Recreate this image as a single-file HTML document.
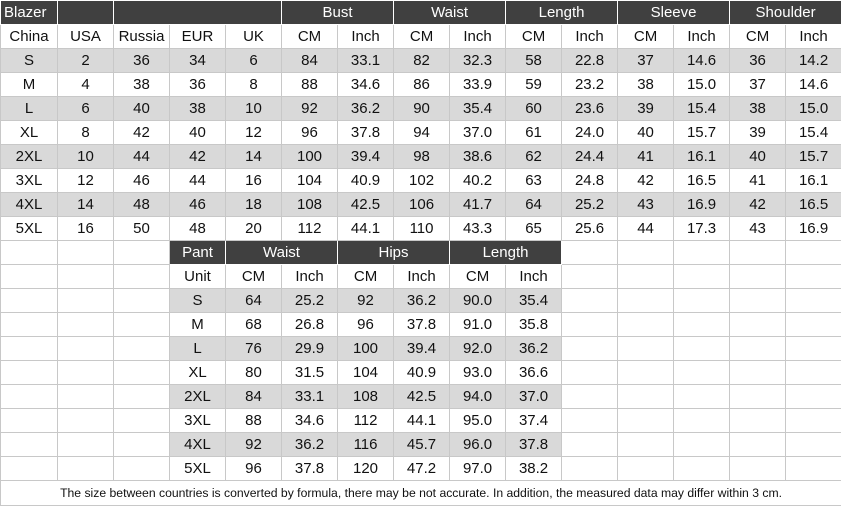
<!DOCTYPE html>
<html><head><style>
body{margin:0;background:#fff;}
table{border-collapse:collapse;table-layout:fixed;width:841px;font-family:"Liberation Sans",Arial,sans-serif;font-size:15px;color:#111;}
td{border:1px solid #c8c8c8;height:23px;padding:0;text-align:center;white-space:nowrap;overflow:hidden;}
td.h{background:#404040;color:#fff;border:1px solid #fff;}
tr.g td.d{background:#d9d9d9;}
tr.ga td{background:#d9d9d9;}
td.cap{font-size:12.2px;height:24px;}
</style></head><body>
<table>
<colgroup>
<col style="width:57px"><col style="width:56px"><col style="width:56px"><col style="width:56px"><col style="width:56px"><col style="width:56px"><col style="width:56px"><col style="width:56px"><col style="width:56px"><col style="width:56px"><col style="width:56px"><col style="width:56px"><col style="width:56px"><col style="width:56px"><col style="width:56px">
</colgroup>
<tr><td class="h" style="text-align:left;padding-left:3px">Blazer</td><td class="h"></td><td class="h" colspan="3"></td><td class="h" colspan="2">Bust</td><td class="h" colspan="2">Waist</td><td class="h" colspan="2">Length</td><td class="h" colspan="2">Sleeve</td><td class="h" colspan="2">Shoulder</td></tr>
<tr><td>China</td><td>USA</td><td>Russia</td><td>EUR</td><td>UK</td><td>CM</td><td>Inch</td><td>CM</td><td>Inch</td><td>CM</td><td>Inch</td><td>CM</td><td>Inch</td><td>CM</td><td>Inch</td></tr>
<tr class="ga"><td>S</td><td>2</td><td>36</td><td>34</td><td>6</td><td>84</td><td>33.1</td><td>82</td><td>32.3</td><td>58</td><td>22.8</td><td>37</td><td>14.6</td><td>36</td><td>14.2</td></tr>
<tr><td>M</td><td>4</td><td>38</td><td>36</td><td>8</td><td>88</td><td>34.6</td><td>86</td><td>33.9</td><td>59</td><td>23.2</td><td>38</td><td>15.0</td><td>37</td><td>14.6</td></tr>
<tr class="ga"><td>L</td><td>6</td><td>40</td><td>38</td><td>10</td><td>92</td><td>36.2</td><td>90</td><td>35.4</td><td>60</td><td>23.6</td><td>39</td><td>15.4</td><td>38</td><td>15.0</td></tr>
<tr><td>XL</td><td>8</td><td>42</td><td>40</td><td>12</td><td>96</td><td>37.8</td><td>94</td><td>37.0</td><td>61</td><td>24.0</td><td>40</td><td>15.7</td><td>39</td><td>15.4</td></tr>
<tr class="ga"><td>2XL</td><td>10</td><td>44</td><td>42</td><td>14</td><td>100</td><td>39.4</td><td>98</td><td>38.6</td><td>62</td><td>24.4</td><td>41</td><td>16.1</td><td>40</td><td>15.7</td></tr>
<tr><td>3XL</td><td>12</td><td>46</td><td>44</td><td>16</td><td>104</td><td>40.9</td><td>102</td><td>40.2</td><td>63</td><td>24.8</td><td>42</td><td>16.5</td><td>41</td><td>16.1</td></tr>
<tr class="ga"><td>4XL</td><td>14</td><td>48</td><td>46</td><td>18</td><td>108</td><td>42.5</td><td>106</td><td>41.7</td><td>64</td><td>25.2</td><td>43</td><td>16.9</td><td>42</td><td>16.5</td></tr>
<tr><td>5XL</td><td>16</td><td>50</td><td>48</td><td>20</td><td>112</td><td>44.1</td><td>110</td><td>43.3</td><td>65</td><td>25.6</td><td>44</td><td>17.3</td><td>43</td><td>16.9</td></tr>
<tr><td></td><td></td><td></td><td class="h">Pant</td><td class="h" colspan="2">Waist</td><td class="h" colspan="2">Hips</td><td class="h" colspan="2">Length</td><td></td><td></td><td></td><td></td><td></td></tr>
<tr><td></td><td></td><td></td><td>Unit</td><td>CM</td><td>Inch</td><td>CM</td><td>Inch</td><td>CM</td><td>Inch</td><td></td><td></td><td></td><td></td><td></td></tr>
<tr class="g"><td></td><td></td><td></td><td class="d">S</td><td class="d">64</td><td class="d">25.2</td><td class="d">92</td><td class="d">36.2</td><td class="d">90.0</td><td class="d">35.4</td><td></td><td></td><td></td><td></td><td></td></tr>
<tr><td></td><td></td><td></td><td>M</td><td>68</td><td>26.8</td><td>96</td><td>37.8</td><td>91.0</td><td>35.8</td><td></td><td></td><td></td><td></td><td></td></tr>
<tr class="g"><td></td><td></td><td></td><td class="d">L</td><td class="d">76</td><td class="d">29.9</td><td class="d">100</td><td class="d">39.4</td><td class="d">92.0</td><td class="d">36.2</td><td></td><td></td><td></td><td></td><td></td></tr>
<tr><td></td><td></td><td></td><td>XL</td><td>80</td><td>31.5</td><td>104</td><td>40.9</td><td>93.0</td><td>36.6</td><td></td><td></td><td></td><td></td><td></td></tr>
<tr class="g"><td></td><td></td><td></td><td class="d">2XL</td><td class="d">84</td><td class="d">33.1</td><td class="d">108</td><td class="d">42.5</td><td class="d">94.0</td><td class="d">37.0</td><td></td><td></td><td></td><td></td><td></td></tr>
<tr><td></td><td></td><td></td><td>3XL</td><td>88</td><td>34.6</td><td>112</td><td>44.1</td><td>95.0</td><td>37.4</td><td></td><td></td><td></td><td></td><td></td></tr>
<tr class="g"><td></td><td></td><td></td><td class="d">4XL</td><td class="d">92</td><td class="d">36.2</td><td class="d">116</td><td class="d">45.7</td><td class="d">96.0</td><td class="d">37.8</td><td></td><td></td><td></td><td></td><td></td></tr>
<tr><td></td><td></td><td></td><td>5XL</td><td>96</td><td>37.8</td><td>120</td><td>47.2</td><td>97.0</td><td>38.2</td><td></td><td></td><td></td><td></td><td></td></tr>
<tr><td class="cap" colspan="15">The size between countries is converted by formula, there may be not accurate. In addition, the measured data may differ within 3 cm.</td></tr>
</table>
</body></html>
